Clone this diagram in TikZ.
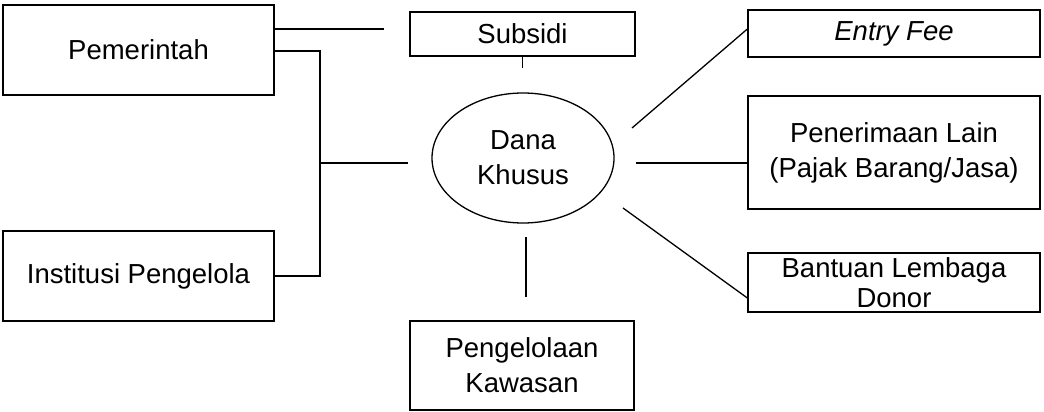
\documentclass[tikz,border=0pt]{standalone}
\usepackage{fontspec}
\setmainfont{Liberation Sans}
\usetikzlibrary{shapes.geometric}

\begin{document}
\begin{tikzpicture}[x=1pt,y=-1pt,line width=1.3pt,
  blk/.style={draw,inner sep=0pt,align=center,font=\fontsize{27.5}{35}\selectfont},
  lnk/.style={line width=1.3pt}]
 \useasboundingbox (0,0) rectangle (1044,412);
 % Sources on the left
 \node[blk,minimum width=271pt,minimum height=90pt] (pem) at (138.5,50) {Pemerintah};
 \node[blk,minimum width=271pt,minimum height=90pt] (inst) at (138.5,276) {Institusi Pengelola};
 % Centre fund and its neighbours
 \node[blk,minimum width=225pt,minimum height=44pt] (sub) at (522.5,34) {Subsidi};
 \node[blk,ellipse,minimum width=182pt,minimum height=130pt] (dana) at (523,158) {Dana\\Khusus};
 \node[blk,minimum width=224pt,minimum height=89pt] (peng) at (522,365.5) {Pengelolaan\\Kawasan};
 % Revenue sources on the right
 \node[blk,minimum width=292pt,minimum height=47pt] (entry) at (894,33.5) {\itshape Entry Fee};
 \node[blk,minimum width=292pt,minimum height=113pt] (pen) at (894,152.5) {Penerimaan Lain\\(Pajak Barang/Jasa)};
 \node[blk,minimum width=292pt,minimum height=59pt,font=\fontsize{27.5}{30}\selectfont] (bant) at (894,282.5) {Bantuan Lembaga\\Donor};
 % free line ends
 \coordinate (s0) at (384,29);
 \coordinate (s1) at (523,68);
 \coordinate (jt) at (320,51);
 \coordinate (jm) at (320,163);
 \coordinate (jb) at (320,276);
 \coordinate (d0) at (408,163);
 \coordinate (p0) at (526,237);
 \coordinate (p1) at (526,297);
 \coordinate (r0) at (632,128);
 \coordinate (r1) at (636,163);
 \coordinate (r2) at (623,208);
 % connectors
 \draw[lnk] (pem.east |- s0) -- (s0);
 \draw[lnk] (pem.east |- jt) -- (jt) -- (jb) -- (inst.east |- jb);
 \draw[lnk] (jm) -- (d0);
 \draw[lnk] (sub.south) -- (sub.south |- s1);
 \draw[lnk] (p0) -- (p1);
 \draw[lnk] (r0) -- ([yshift=4.5pt]entry.west);
 \draw[lnk] (r1) -- (pen.west |- r1);
 \draw[lnk] (r2) -- ([yshift=-15.5pt]bant.west);
\end{tikzpicture}
\end{document}
